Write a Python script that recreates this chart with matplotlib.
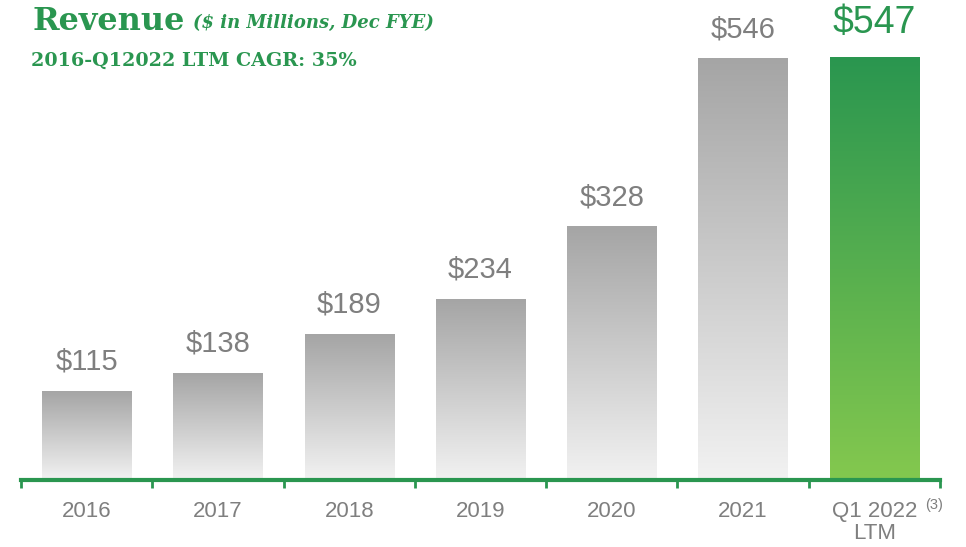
import matplotlib.pyplot as plt
import numpy as np
from matplotlib.colors import LinearSegmentedColormap

# Revenue data ($ in millions)
categories = ['2016', '2017', '2018', '2019', '2020', '2021', 'Q1 2022\nLTM']
revenue = [115, 138, 189, 234, 328, 546, 547]
value_labels = ['$115', '$138', '$189', '$234', '$328', '$546', '$547']

GREEN = '#2a9650'
GRAY_TXT = '#7f7f7f'

gray_cmap = LinearSegmentedColormap.from_list('g', ['#f2f2f2', '#a5a5a5'])
green_cmap = LinearSegmentedColormap.from_list('gr', ['#84c84e', '#2a9650'])

fig = plt.figure(figsize=(9.66, 5.47), dpi=100)
ax = fig.add_axes([21 / 966, 1 - 480 / 547, 919 / 966, 480 / 547])

ymax = 622
width = 0.68
grad = np.linspace(0, 1, 256).reshape(-1, 1)

for i, v in enumerate(revenue):
    last = i == len(revenue) - 1
    cmap = green_cmap if last else gray_cmap
    ax.imshow(grad, cmap=cmap, origin='lower', aspect='auto',
              extent=(i - width / 2, i + width / 2, 0, v), zorder=2)
    if last:
        ax.text(i, v + 32, value_labels[i], ha='center', va='baseline',
                fontsize=27, color=GREEN, family='Liberation Sans')
    else:
        ax.text(i, v + 28, value_labels[i], ha='center', va='baseline',
                fontsize=21, color=GRAY_TXT, family='Liberation Sans')

ax.set_xlim(-0.5, len(revenue) - 0.5)
ax.set_ylim(0, ymax)

for s in ['top', 'right', 'left']:
    ax.spines[s].set_visible(False)
ax.spines['bottom'].set_color(GREEN)
ax.spines['bottom'].set_linewidth(3)
ax.set_yticks([])

# tick marks at category boundaries, labels at centres
ax.set_xticks(np.arange(-0.5, len(revenue), 1.0))
ax.set_xticklabels([])
ax.tick_params(axis='x', which='major', direction='out', length=6, width=2, color=GREEN)
ax.set_xticks(np.arange(len(revenue)), minor=True)
ax.set_xticklabels(categories, minor=True, fontsize=16, color=GRAY_TXT,
                   family='Liberation Sans', linespacing=1.1)
ax.tick_params(axis='x', which='minor', length=0, pad=15)
ax.text(6.39, -32, '(3)', fontsize=10.5, color=GRAY_TXT, family='Liberation Sans',
        ha='left', va='center')

# headings
fig.text(32 / 966, 1 - 30 / 547, 'Revenue', fontsize=23, fontweight='bold',
         color=GREEN, family='DejaVu Serif')
fig.text(193 / 966, 1 - 28 / 547, '($ in Millions, Dec FYE)', fontsize=13,
         fontweight='bold', style='italic', color=GREEN, family='DejaVu Serif')
fig.text(31 / 966, 1 - 66 / 547, '2016-Q12022 LTM CAGR: 35%', fontsize=13.8,
         fontweight='bold', color=GREEN, family='DejaVu Serif')

fig.savefig('out.png', dpi=100)
